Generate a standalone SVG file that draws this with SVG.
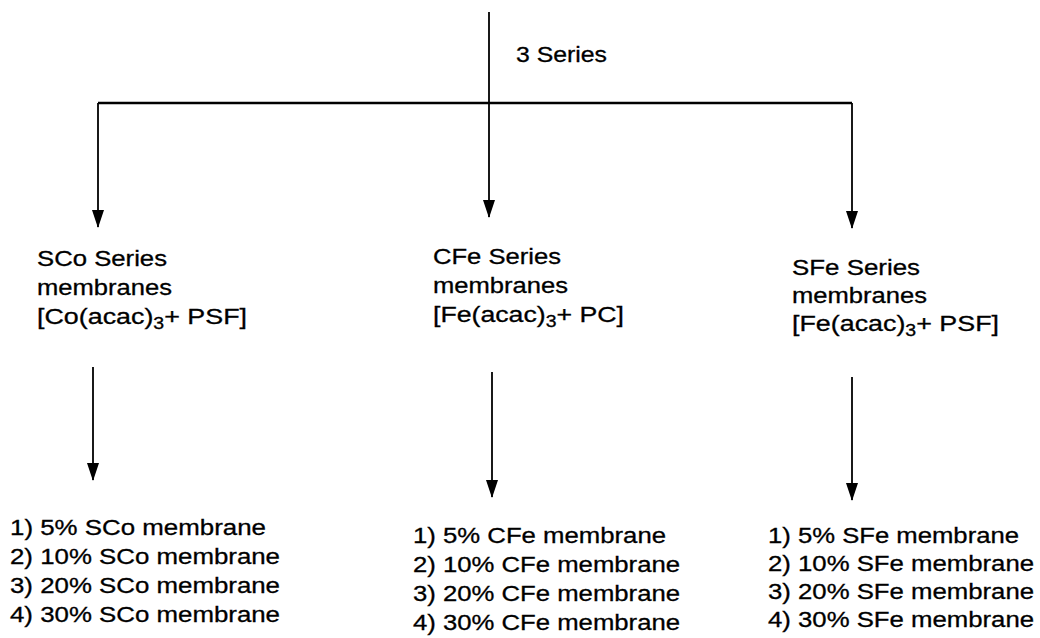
<svg xmlns="http://www.w3.org/2000/svg" width="1040" height="638" viewBox="0 0 1040 638">
<style>
text{font-family:"Liberation Sans",Arial,sans-serif;font-size:22px;fill:#000;stroke:#000;stroke-width:0.3}
.c{stroke:#000;stroke-width:1.8;fill:none}
.h{stroke:#000;stroke-width:2.4;fill:none}
.sub{font-size:16px}
</style>
<defs>
<marker id="ah" markerUnits="userSpaceOnUse" markerWidth="18" markerHeight="12" refX="17" refY="6" orient="auto">
<path d="M0,0 L18,6 L0,12 z" fill="#000"/>
</marker>
</defs>
<rect width="1040" height="638" fill="#fff"/>
<g id="connectors">
<line class="c" x1="489" y1="12" x2="489" y2="217" marker-end="url(#ah)"/>
<line class="h" x1="98" y1="103" x2="852" y2="103"/>
<line class="c" x1="98" y1="103" x2="98" y2="227" marker-end="url(#ah)"/>
<line class="c" x1="852" y1="103" x2="852" y2="228" marker-end="url(#ah)"/>
<line class="c" x1="93" y1="367" x2="93" y2="480" marker-end="url(#ah)"/>
<line class="c" x1="492" y1="372" x2="492" y2="497" marker-end="url(#ah)"/>
<line class="c" x1="852" y1="377" x2="852" y2="500" marker-end="url(#ah)"/>
</g>
<g id="label-3series">
<text x="516" y="62" textLength="91" lengthAdjust="spacingAndGlyphs">3 Series</text>
</g>
<g id="node-sco">
<text x="37" y="266" textLength="130" lengthAdjust="spacingAndGlyphs">SCo Series</text>
<text x="37" y="295" textLength="135" lengthAdjust="spacingAndGlyphs">membranes</text>
<text x="37" y="324" textLength="210" lengthAdjust="spacingAndGlyphs">[Co(acac)<tspan class="sub" dy="5">3</tspan><tspan dy="-5">+ PSF]</tspan></text>
</g>
<g id="node-cfe">
<text x="433" y="264" textLength="128" lengthAdjust="spacingAndGlyphs">CFe Series</text>
<text x="433" y="293" textLength="135" lengthAdjust="spacingAndGlyphs">membranes</text>
<text x="433" y="322" textLength="191" lengthAdjust="spacingAndGlyphs">[Fe(acac)<tspan class="sub" dy="5">3</tspan><tspan dy="-5">+ PC]</tspan></text>
</g>
<g id="node-sfe">
<text x="792" y="275" textLength="128" lengthAdjust="spacingAndGlyphs">SFe Series</text>
<text x="792" y="303" textLength="135" lengthAdjust="spacingAndGlyphs">membranes</text>
<text x="792" y="331" textLength="207" lengthAdjust="spacingAndGlyphs">[Fe(acac)<tspan class="sub" dy="5">3</tspan><tspan dy="-5">+ PSF]</tspan></text>
</g>
<g id="list-sco">
<text x="10" y="535" textLength="256" lengthAdjust="spacingAndGlyphs">1) 5% SCo membrane</text>
<text x="10" y="564" textLength="270" lengthAdjust="spacingAndGlyphs">2) 10% SCo membrane</text>
<text x="10" y="593" textLength="270" lengthAdjust="spacingAndGlyphs">3) 20% SCo membrane</text>
<text x="10" y="622" textLength="270" lengthAdjust="spacingAndGlyphs">4) 30% SCo membrane</text>
</g>
<g id="list-cfe">
<text x="413" y="543" textLength="253" lengthAdjust="spacingAndGlyphs">1) 5% CFe membrane</text>
<text x="413" y="572" textLength="267" lengthAdjust="spacingAndGlyphs">2) 10% CFe membrane</text>
<text x="413" y="601" textLength="267" lengthAdjust="spacingAndGlyphs">3) 20% CFe membrane</text>
<text x="413" y="630" textLength="267" lengthAdjust="spacingAndGlyphs">4) 30% CFe membrane</text>
</g>
<g id="list-sfe">
<text x="768" y="543" textLength="251" lengthAdjust="spacingAndGlyphs">1) 5% SFe membrane</text>
<text x="768" y="571" textLength="266" lengthAdjust="spacingAndGlyphs">2) 10% SFe membrane</text>
<text x="768" y="599" textLength="266" lengthAdjust="spacingAndGlyphs">3) 20% SFe membrane</text>
<text x="768" y="627" textLength="266" lengthAdjust="spacingAndGlyphs">4) 30% SFe membrane</text>
</g>
</svg>
